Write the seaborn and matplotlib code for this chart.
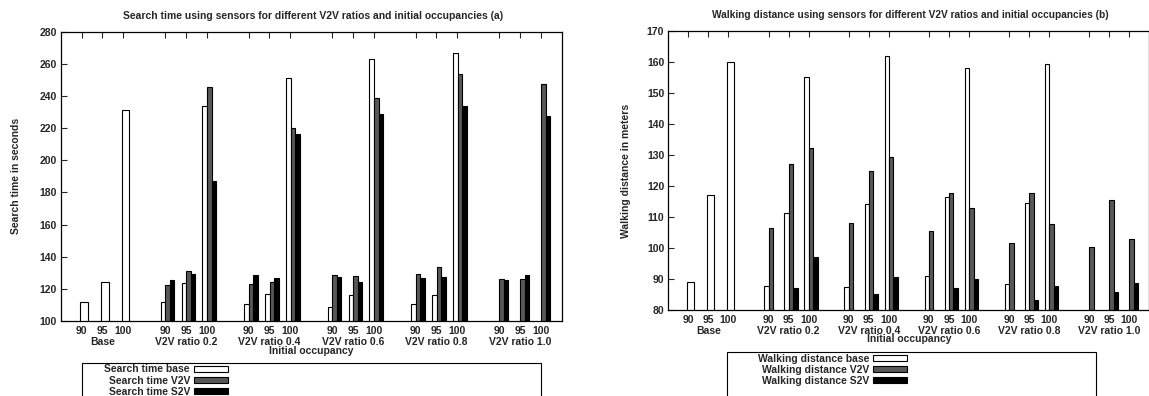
import numpy as np
import pandas as pd
import matplotlib
matplotlib.use("Agg")
import matplotlib.pyplot as plt
import seaborn as sns
from matplotlib.patches import Patch, Rectangle

# ---------------- data ----------------
occupancies = ["90", "95", "100"]
groups = ["Base", "V2V ratio 0.2", "V2V ratio 0.4", "V2V ratio 0.6",
          "V2V ratio 0.8", "V2V ratio 1.0"]
nan = np.nan

# (a) search time in seconds
search_base_group = [112.0, 124.0, 231.5]
# V2V-ratio groups 0.2, 0.4, 0.6, 0.8, 1.0 x occupancy 90, 95, 100
search_base = [111.8, 123.6, 233.5,
               110.8, 116.6, 251.5,
               108.7, 116.0, 263.2,
               110.8, 116.2, 266.8,
               nan, nan, nan]
search_v2v = [122.6, 131.2, 245.8,
              123.2, 124.0, 220.3,
              128.8, 128.2, 239.0,
              129.0, 133.3, 253.7,
              125.9, 126.2, 247.5]
search_s2v = [125.3, 129.5, 186.8,
              128.8, 127.0, 216.6,
              127.6, 124.2, 228.8,
              126.6, 127.6, 233.8,
              125.8, 128.6, 227.8]

# (b) walking distance in meters
walk_base_group = [89.1, 117.2, 160.0]
walk_base = [87.8, 111.4, 155.3,
             87.3, 114.3, 162.0,
             91.1, 116.4, 158.2,
             88.3, 114.4, 159.2,
             nan, nan, nan]
walk_v2v = [106.5, 127.0, 132.3,
            108.0, 125.0, 129.2,
            105.4, 117.6, 112.8,
            101.5, 117.6, 107.6,
            100.2, 115.6, 102.8]
walk_s2v = [nan, 87.2, 97.0,
            nan, 85.1, 90.8,
            nan, 87.0, 90.0,
            nan, 83.1, 87.6,
            nan, 85.8, 88.6]

# ---------------- style ----------------
W, H = 1149, 396
sns.set_style("ticks")
plt.rcParams["font.family"] = ["Liberation Sans", "DejaVu Sans"]
plt.rcParams["font.weight"] = "bold"
plt.rcParams["axes.edgecolor"] = "black"
plt.rcParams["axes.linewidth"] = 0.9

GRAY = "#585858"
BAR_W = 0.22
SHIFT = 0.12
series_keys = ["base_group", "base", "v2v", "s2v"]
offsets = {"base_group": SHIFT, "base": SHIFT - BAR_W, "v2v": SHIFT, "s2v": SHIFT + BAR_W}
widths = {"base_group": 0.35, "base": BAR_W, "v2v": BAR_W, "s2v": BAR_W}
colors = {"base_group": "white", "base": "white", "v2v": GRAY, "s2v": "black"}


def build(base_group, base, v2v, s2v):
    rows = []
    for s, v in enumerate(base_group):
        rows.append(dict(slot=s, value=v, series="base_group"))
    for i, (b, g, k) in enumerate(zip(base, v2v, s2v)):
        slot = (i // 3 + 1) * 4 + i % 3
        rows.append(dict(slot=slot, value=b, series="base"))
        rows.append(dict(slot=slot, value=g, series="v2v"))
        rows.append(dict(slot=slot, value=k, series="s2v"))
    return pd.DataFrame(rows).dropna()


def draw(ax, df, ylim, yticks, xlabel, grp_off, xl_off):
    for key in series_keys:
        sub = df[df["series"] == key].copy()
        sub["pos"] = sub["slot"] + offsets[key]
        sns.barplot(data=sub, x="pos", y="value", native_scale=True,
                    width=widths[key], color=colors[key], saturation=1,
                    edgecolor="black", linewidth=0.8, errorbar=None, ax=ax)
    slots = [g * 4 + s for g in range(len(groups)) for s in range(len(occupancies))]
    ax.set_xticks(slots)
    ax.set_xticklabels(occupancies * len(groups))
    ax.set_xlim(-1, 23)
    ax.set_ylim(*ylim)
    ax.set_yticks(yticks)
    ax.set_xlabel("")
    ax.set_ylabel("")
    ax.tick_params(axis="x", which="both", direction="in", top=True, bottom=False,
                   labelbottom=True, length=4, width=0.8, pad=3.5, labelsize=7.5)
    ax.tick_params(axis="y", direction="in", left=True, right=False,
                   length=4, width=0.8, pad=3, labelsize=7.5)
    for lab in ax.get_xticklabels() + ax.get_yticklabels():
        lab.set_fontweight("bold")
    for g, name in enumerate(groups):
        ax.annotate(name, xy=(g * 4 + 1, 0), xycoords=("data", "axes fraction"),
                    xytext=(0, -grp_off * 0.72), textcoords="offset points",
                    ha="center", va="center", fontsize=7.5, fontweight="bold")
    ax.annotate(xlabel, xy=(0.5, 0), xycoords="axes fraction",
                xytext=(0, -xl_off * 0.72), textcoords="offset points",
                ha="center", va="center", fontsize=7.5, fontweight="bold")
    ax.grid(False)


fig = plt.figure(figsize=(W / 100, H / 100), dpi=100)
ax1 = fig.add_axes([60.7 / W, 1 - 321 / H, 501 / W, 289.3 / H])
ax2 = fig.add_axes([668.3 / W, 1 - 310 / H, 481 / W, 279 / H])

df_a = build(search_base_group, search_base, search_v2v, search_s2v)
df_b = build(walk_base_group, walk_base, walk_v2v, walk_s2v)

draw(ax1, df_a, (100, 280), np.arange(100, 281, 20), "Initial occupancy", 21, 29.7)
draw(ax2, df_b, (80, 170), np.arange(80, 171, 10), "Initial occupancy", 21, 29.3)

# titles and y labels
fig.text(313 / W, 1 - 16 / H,
         "Search time using sensors for different V2V ratios and initial occupancies (a)",
         ha="center", va="center", fontsize=7.5, fontweight="bold")
fig.text(910 / W, 1 - 15 / H,
         "Walking distance using sensors for different V2V ratios and initial occupancies (b)",
         ha="center", va="center", fontsize=7.3, fontweight="bold")
fig.text(16 / W, 1 - 176 / H, "Search time in seconds", rotation=90,
         ha="center", va="center", fontsize=7.5, fontweight="bold")
fig.text(626 / W, 1 - 171 / H, "Walking distance in meters", rotation=90,
         ha="center", va="center", fontsize=7.5, fontweight="bold")

# legends
def legend(labels, x_right, y_top, box_left, box_right, box_top):
    handles = [Patch(facecolor="white", edgecolor="black", linewidth=0.8),
               Patch(facecolor=GRAY, edgecolor="black", linewidth=0.8),
               Patch(facecolor="black", edgecolor="black", linewidth=0.8)]
    fig.legend(handles, labels, loc="upper right",
               bbox_to_anchor=(x_right / W, 1 - y_top / H),
               markerfirst=False, frameon=False, borderpad=0, borderaxespad=0,
               handlelength=3.3, handleheight=0.5, handletextpad=0.35,
               labelspacing=0.12, prop={"size": 7.5, "weight": "bold"})
    fig.patches.append(Rectangle((box_left / W, -0.2), (box_right - box_left) / W,
                                 (1 - box_top / H) + 0.2, transform=fig.transFigure,
                                 fill=False, edgecolor="black", linewidth=0.8))

legend(["Search time base", "Search time V2V", "Search time S2V"],
       228, 364.5, 81.7, 541, 362.7)
legend(["Walking distance base", "Walking distance V2V", "Walking distance S2V"],
       907, 353.5, 727, 1096, 352.3)

fig.savefig("out.png", dpi=100)
